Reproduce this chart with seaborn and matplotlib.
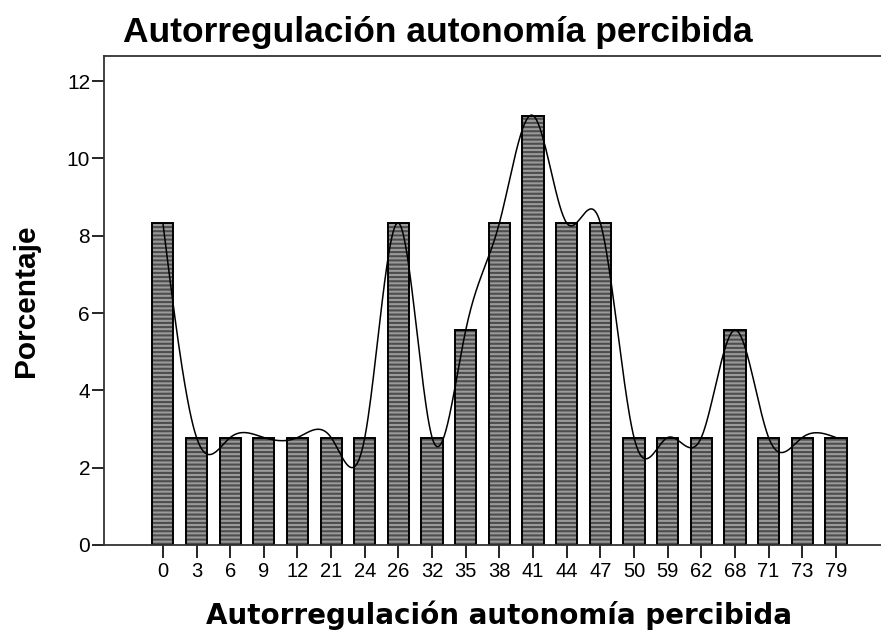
import numpy as np
import pandas as pd
import matplotlib
matplotlib.use("Agg")
import matplotlib.pyplot as plt
import seaborn as sns

# puntuaciones observadas y su porcentaje (n = 36)
scores = ["0", "3", "6", "9", "12", "21", "24", "26", "32", "35", "38",
          "41", "44", "47", "50", "59", "62", "68", "71", "73", "79"]
percent = [8.33, 2.78, 2.78, 2.78, 2.78, 2.78, 2.78, 8.33, 2.78, 5.56, 8.33,
           11.11, 8.33, 8.33, 2.78, 2.78, 2.78, 5.56, 2.78, 2.78, 2.78]

title = "Autorregulación autonomía percibida"
xlab = "Autorregulación autonomía percibida"
ylab = "Porcentaje"

sns.set_style("white")
plt.rcParams["font.family"] = ["Liberation Sans", "DejaVu Sans"]
plt.rcParams["hatch.linewidth"] = 1.5
plt.rcParams["hatch.color"] = "#4d4d4d"
plt.rcParams["text.color"] = "black"
plt.rcParams["axes.labelcolor"] = "black"
plt.rcParams["xtick.color"] = "black"
plt.rcParams["ytick.color"] = "black"

df = pd.DataFrame({"score": scores, "pct": percent})


def natural_spline(xs, ys, n=40):
    # spline cubica natural por las alturas de las barras
    xs = np.asarray(xs, float)
    ys = np.asarray(ys, float)
    k = len(xs)
    h = np.diff(xs)
    A = np.zeros((k, k))
    b = np.zeros(k)
    A[0, 0] = 1
    A[-1, -1] = 1
    for i in range(1, k - 1):
        A[i, i - 1] = h[i - 1]
        A[i, i] = 2 * (h[i - 1] + h[i])
        A[i, i + 1] = h[i]
        b[i] = 6 * ((ys[i + 1] - ys[i]) / h[i] - (ys[i] - ys[i - 1]) / h[i - 1])
    M = np.linalg.solve(A, b)
    px, py = [], []
    for i in range(k - 1):
        t = np.linspace(xs[i], xs[i + 1], n)
        a = xs[i + 1] - t
        c = t - xs[i]
        y = (M[i] * a ** 3 + M[i + 1] * c ** 3) / (6 * h[i]) \
            + (ys[i] / h[i] - M[i] * h[i] / 6) * a \
            + (ys[i + 1] / h[i] - M[i + 1] * h[i] / 6) * c
        px.extend(t)
        py.extend(y)
    return np.array(px), np.array(py)


fig = plt.figure(figsize=(8.81, 6.37), dpi=100)
ax = fig.add_axes([104 / 881, 1 - 545 / 637, 1 - 104 / 881, (545 - 56) / 637])

sns.barplot(data=df, x="score", y="pct", color="#9a9a9a", width=0.63,
            saturation=1, errorbar=None, ax=ax)
for bar in ax.patches:
    bar.set_hatch("----")
    bar.set_edgecolor("#4d4d4d")
    bar.set_linewidth(0)
sns.barplot(data=df, x="score", y="pct", fill=False, width=0.63,
            edgecolor="black", linewidth=1.4, errorbar=None, ax=ax)

cx, cy = natural_spline(range(len(scores)), percent)
ax.plot(cx, cy, color="black", linewidth=1.1, zorder=5)

ax.set_xlim(-1.75, 21.34)
ax.set_ylim(0, 12.65)
ax.set_yticks([0, 2, 4, 6, 8, 10, 12])
ax.tick_params(axis="y", direction="out", length=9, width=1.2, labelsize=15,
               left=True, pad=1)
ax.tick_params(axis="x", direction="out", length=9.5, width=1.2, labelsize=14.5,
               bottom=True, pad=3)
for sp in ["left", "bottom", "top"]:
    ax.spines[sp].set_color("#333333")
    ax.spines[sp].set_linewidth(1.3)
ax.spines["right"].set_visible(False)

ax.set_xlabel(xlab, fontsize=20, fontweight="bold", family="DejaVu Sans")
ax.xaxis.set_label_coords(0.508, -0.143)
ax.xaxis.label.set_va("center")
ax.set_ylabel(ylab, fontsize=21.5, fontweight="bold", labelpad=19)
fig.text(123 / 881, 1 - 42 / 637, title, fontsize=25.5, fontweight="bold",
         ha="left", va="baseline")

fig.savefig("out.png", dpi=100)
